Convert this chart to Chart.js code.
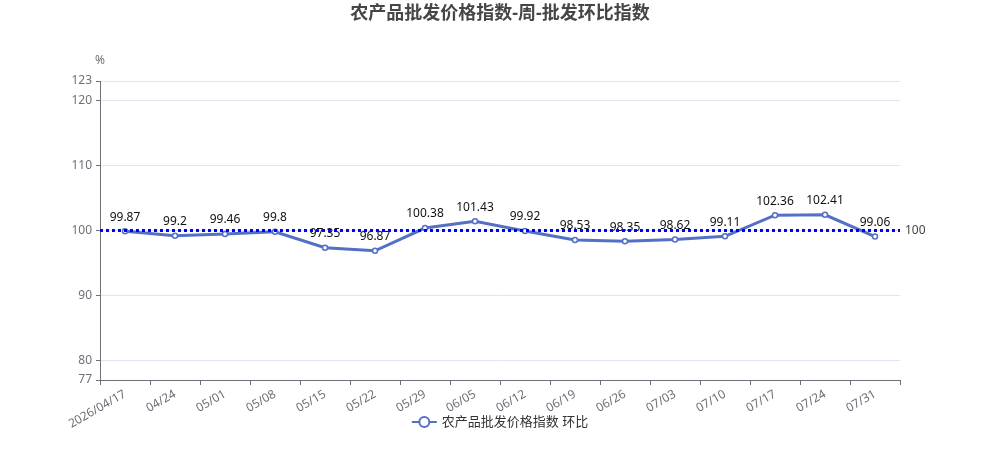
<!DOCTYPE html>
<html>
<head>
<meta charset="utf-8">
<script src="https://cdn.jsdelivr.net/npm/chart.js@4.4.1/dist/chart.umd.min.js"></script>
<style>
  html, body { margin: 0; padding: 0; background: #fff; }
  #wrap { width: 1000px; height: 450px; }
</style>
</head>
<body>
<div id="wrap"><canvas id="chart" width="1000" height="450"></canvas></div>
<script>
// Chart data
const categories = ['2026/04/17', '04/24', '05/01', '05/08', '05/15', '05/22', '05/29', '06/05',
    '06/12', '06/19', '06/26', '07/03', '07/10', '07/17', '07/24', '07/31'];
const ringIndex = [99.87, 99.2, 99.46, 99.8, 97.35, 96.87, 100.38, 101.43,
    99.92, 98.53, 98.35, 98.62, 99.11, 102.36, 102.41, 99.06];
const yTicks = [77, 80, 90, 100, 110, 120, 123];
const baseLine = 100;
const seriesName = '农产品批发价格指数 环比';

const FONT = '"Noto Sans", "Noto Sans CJK SC", sans-serif';
const LINE_COLOR = '#5470c6';
const AXIS_COLOR = '#6e7079';

/**
 * Draws title, unit, value labels, legend and the 100 reference line
 */
const decorPlugin = {
    id: 'decor',
    afterDatasetsDraw(chart) {
        const { ctx, chartArea, scales } = chart;
        const meta = chart.getDatasetMeta(0);

        ctx.save();
        // value labels
        ctx.font = '12px ' + FONT;
        ctx.fillStyle = '#111';
        ctx.textAlign = 'center';
        ctx.textBaseline = 'bottom';
        meta.data.forEach((pt, i) => {
            ctx.fillText(String(ringIndex[i]), pt.x, pt.y - 8);
        });

        // reference line
        const y = scales.y.getPixelForValue(baseLine);
        ctx.strokeStyle = '#0000ff';
        ctx.lineWidth = 3;
        ctx.setLineDash([3, 3]);
        ctx.beginPath();
        ctx.moveTo(chartArea.left, y);
        ctx.lineTo(chartArea.right, y);
        ctx.stroke();
        ctx.setLineDash([]);

        ctx.fillStyle = '#444';
        ctx.textAlign = 'left';
        ctx.textBaseline = 'middle';
        ctx.fillText(String(baseLine), chartArea.right + 5, y);

        // unit
        ctx.fillStyle = AXIS_COLOR;
        ctx.textAlign = 'center';
        ctx.fillText('%', chartArea.left, chartArea.top - 20);

        // legend: line with hollow circle + name
        ctx.font = '13px ' + FONT;
        const textW = ctx.measureText(seriesName).width;
        const iconW = 25;
        const gap = 5;
        const lx = (chart.width - (iconW + gap + textW)) / 2;
        const ly = 422;
        ctx.strokeStyle = LINE_COLOR;
        ctx.lineWidth = 2;
        ctx.beginPath();
        ctx.moveTo(lx, ly);
        ctx.lineTo(lx + iconW, ly);
        ctx.stroke();
        ctx.beginPath();
        ctx.arc(lx + iconW / 2, ly, 5, 0, Math.PI * 2);
        ctx.fillStyle = '#fff';
        ctx.fill();
        ctx.stroke();
        ctx.fillStyle = '#333';
        ctx.textAlign = 'left';
        ctx.fillText(seriesName, lx + iconW + gap, ly);

        // title
        ctx.font = 'bold 18px ' + FONT;
        ctx.fillStyle = '#464646';
        ctx.textAlign = 'center';
        ctx.fillText('农产品批发价格指数-周-批发环比指数', chart.width / 2, 14);
        ctx.restore();
    }
};

const ctx = document.getElementById('chart').getContext('2d');

new Chart(ctx, {
    type: 'line',
    data: {
        labels: categories,
        datasets: [{
            label: seriesName,
            data: ringIndex,
            borderColor: LINE_COLOR,
            backgroundColor: '#fff',
            borderWidth: 3,
            tension: 0,
            pointRadius: 2.5,
            pointBorderWidth: 1.5,
            pointBackgroundColor: '#fff',
            pointBorderColor: LINE_COLOR,
            pointStyle: 'circle'
        }]
    },
    options: {
        responsive: false,
        animation: false,
        devicePixelRatio: 1,
        layout: {
            padding: { left: 0, right: 100, top: 81, bottom: 0 }
        },
        plugins: {
            title: { display: false },
            tooltip: { enabled: false },
            legend: { display: false }
        },
        scales: {
            x: {
                type: 'category',
                offset: true,
                grid: {
                    offset: true,
                    drawOnChartArea: false,
                    drawTicks: true,
                    tickLength: 5,
                    tickColor: AXIS_COLOR
                },
                border: { display: true, color: AXIS_COLOR, width: 1 },
                ticks: {
                    color: AXIS_COLOR,
                    font: { family: FONT, size: 12 },
                    minRotation: 30,
                    maxRotation: 30,
                    autoSkip: false,
                    padding: 2
                },
                afterFit(scale) {
                    scale.height = 70;
                }
            },
            y: {
                min: 77,
                max: 123,
                afterBuildTicks(scale) {
                    scale.ticks = yTicks.map(v => ({ value: v }));
                },
                afterFit(scale) {
                    scale.width = 100;
                },
                grid: {
                    color: '#e0e6f1',
                    drawTicks: true,
                    tickLength: 4,
                    tickColor: AXIS_COLOR
                },
                border: { display: true, color: AXIS_COLOR, width: 1 },
                ticks: {
                    color: AXIS_COLOR,
                    font: { family: FONT, size: 12 },
                    padding: 4
                }
            }
        }
    },
    plugins: [decorPlugin]
});
</script>
</body>
</html>
